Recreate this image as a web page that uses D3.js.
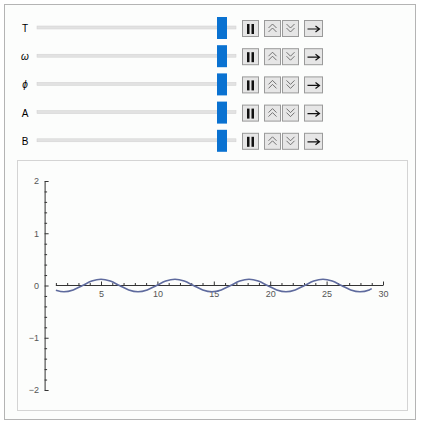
<!DOCTYPE html>
<html><head><meta charset="utf-8">
<script src="https://cdn.jsdelivr.net/npm/d3@7"></script>
<style>body{margin:0;background:#fff;font-family:"Liberation Sans",Arial,sans-serif}</style>
</head><body><svg id="c" width="424" height="422"></svg>
<script>
// slider labels and curve samples
const params = ["T", "ω", "ϕ", "A", "B"];
const xs = [1, 1.72, 2.54, 3.36, 4.18, 5.0, 5.82, 6.64, 7.46, 8.28, 9.1, 9.92, 10.74, 11.56, 12.38, 13.2,
  14.02, 14.84, 15.66, 16.48, 17.3, 18.12, 18.94, 19.76, 20.58, 21.4, 22.22, 23.04, 23.86, 24.68, 25.5,
  26.32, 27.14, 27.96, 28.78, 29.0];
const ys = [-0.09, -0.12, -0.085, 0, 0.085, 0.12, 0.085, 0, -0.085, -0.12, -0.085, 0, 0.085, 0.12, 0.085, 0,
  -0.085, -0.12, -0.085, 0, 0.085, 0.12, 0.085, 0, -0.085, -0.12, -0.085, 0, 0.085, 0.12, 0.085,
  0, -0.085, -0.12, -0.085, -0.06];
const xTicks = [5, 10, 15, 20, 25, 30];
const yTicks = [-2, -1, 0, 1, 2];

const svg = d3.select("#c");
svg.append("rect").attr("x", 4.5).attr("y", 4.5).attr("width", 411).attr("height", 415)
  .attr("fill", "#fcfdfc").attr("stroke", "#b4b4b4");

// controls
params.forEach((p, i) => {
  const cy = 28 + i * 28.2;
  const g = svg.append("g");
  g.append("text").attr("x", 25).attr("y", cy + 4).attr("text-anchor", "middle")
    .attr("font-size", 10).attr("font-style", i > 0 && i < 3 ? "italic" : "normal").text(p);
  g.append("rect").attr("x", 37).attr("y", cy - 2).attr("width", 199).attr("height", 3)
    .attr("fill", "#e2e2e2").attr("stroke", "#d0d0d0").attr("stroke-width", 0.5);
  g.append("rect").attr("x", 217).attr("y", cy - 11).attr("width", 10).attr("height", 22).attr("fill", "#0a72d1");
  const btns = [[242, "pause"], [264, "up"], [282, "down"], [304, "arrow"]];
  btns.forEach(([bx, t]) => {
    const w = t === "arrow" ? 18 : 16;
    g.append("rect").attr("x", bx + 0.5).attr("y", cy - 7.5).attr("width", w).attr("height", 16)
      .attr("fill", "#e6e6e6").attr("stroke", "#9a9a9a");
    const cx = bx + w / 2 + 0.5;
    if (t === "pause") {
      g.append("rect").attr("x", cx - 3.5).attr("y", cy - 4).attr("width", 2.5).attr("height", 10).attr("fill", "#111");
      g.append("rect").attr("x", cx + 1).attr("y", cy - 4).attr("width", 2.5).attr("height", 10).attr("fill", "#111");
    } else if (t === "arrow") {
      g.append("path").attr("d", `M${cx - 6},${cy + 1}H${cx + 5}M${cx + 2},${cy - 2}L${cx + 6},${cy + 1}L${cx + 2},${cy + 4}`)
        .attr("stroke", "#111").attr("fill", "none").attr("stroke-width", 1.2);
    } else {
      const s = t === "up" ? -1 : 1;
      [-2, 2].forEach(o => g.append("path")
        .attr("d", `M${cx - 4},${cy + o - s * 2}L${cx},${cy + o + s * 2}L${cx + 4},${cy + o - s * 2}`)
        .attr("stroke", "#555").attr("fill", "none").attr("stroke-width", 0.8));
    }
  });
});

// plot panel
svg.append("rect").attr("x", 17.5).attr("y", 160.5).attr("width", 390).attr("height", 250)
  .attr("fill", "#fcfdfc").attr("stroke", "#d4d4d4");

const x = d3.scaleLinear().domain([0, 30]).range([44.6, 383]);
const y = d3.scaleLinear().domain([-2, 2]).range([390, 181]);

const xAxis = d3.axisBottom(x).tickValues(d3.range(1, 31)).tickSize(0)
  .tickFormat(d => xTicks.includes(d) ? d : "");
const gx = svg.append("g").attr("transform", `translate(0,${y(0)})`).call(xAxis);
gx.select(".domain").attr("d", `M${x(1)},0H${x(30)}`).attr("stroke", "#333");
gx.selectAll(".tick line").attr("y1", d => xTicks.includes(d) ? -4 : -2.5).attr("stroke", "#333");
gx.selectAll("text").attr("font-size", 9).attr("fill", "#555").attr("dy", "0.9em");

const gy = svg.append("g").attr("transform", `translate(${x(0)},0)`)
  .call(d3.axisLeft(y).tickValues(d3.range(-20, 21).map(d => d / 10)).tickSize(0)
    .tickFormat(d => yTicks.includes(d) ? (d < 0 ? "−" + (-d) : d) : ""));
gy.select(".domain").attr("stroke", "#333");
gy.selectAll(".tick line").attr("x2", d => yTicks.includes(d) ? 4 : (Math.abs(d * 10) % 2 === 0 ? 2.5 : 0)).attr("stroke", "#333");
gy.selectAll(".tick").filter(d => Math.abs(Math.round(d * 10)) % 2 === 1).remove();
gy.selectAll("text").attr("font-size", 9).attr("fill", "#555").attr("dx", "-0.3em");

svg.append("path").datum(xs.map((d, i) => [d, ys[i]]))
  .attr("fill", "none").attr("stroke", "#5e6a9d").attr("stroke-width", 1.6)
  .attr("d", d3.line().x(d => x(d[0])).y(d => y(d[1])).curve(d3.curveMonotoneX));
</script></body></html>
